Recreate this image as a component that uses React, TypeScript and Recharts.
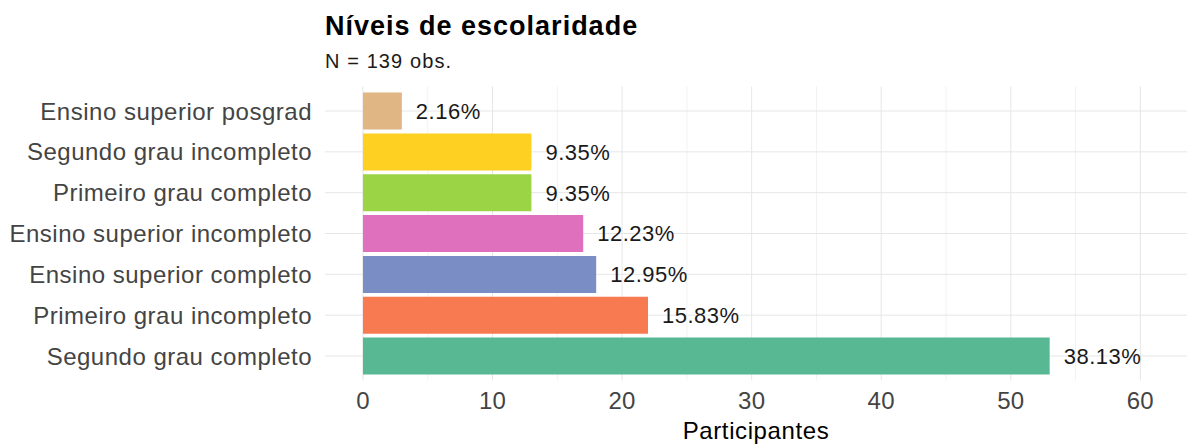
import React from 'react';
import { BarChart, Bar, XAxis, YAxis, CartesianGrid, Cell, LabelList, Label } from 'recharts';

const categories = [
  'Ensino superior posgrad',
  'Segundo grau incompleto',
  'Primeiro grau completo',
  'Ensino superior incompleto',
  'Ensino superior completo',
  'Primeiro grau incompleto',
  'Segundo grau completo',
];
const counts = [3, 13, 13, 17, 18, 22, 53];
const percentLabels = ['2.16%', '9.35%', '9.35%', '12.23%', '12.95%', '15.83%', '38.13%'];
const barColors = ['#dfb684', '#fdd021', '#9bd445', '#df70be', '#7a8ec5', '#f77a50', '#57b893'];
const xTicks = [0, 10, 20, 30, 40, 50, 60];
const xMinorTicks = [5, 15, 25, 35, 45, 55];

const data = categories.map((c, i) => ({ name: c, value: counts[i], label: percentLabels[i] }));

const FONT = '"Liberation Sans", Arial, Helvetica, sans-serif';

export default function App() {
  return (
    <div style={{ position: 'absolute', left: 0, top: 0, width: 1187, height: 445, background: '#fff', fontFamily: FONT }}>
      <div style={{ position: 'absolute', left: 325, top: 13, fontSize: 27, lineHeight: 1, fontWeight: 700, color: '#000', letterSpacing: 1.0, whiteSpace: 'nowrap' }}>
        Níveis de escolaridade
      </div>
      <div style={{ position: 'absolute', left: 325, top: 51, fontSize: 20, lineHeight: 1, color: '#1a1a1a', letterSpacing: 1.1, whiteSpace: 'nowrap' }}>
        N = 139 obs.
      </div>
      <div style={{ position: 'absolute', left: 0, top: 0 }}>
        <BarChart
          width={1187}
          height={445}
          data={data}
          layout="vertical"
          margin={{ top: 86.5, right: 0, bottom: 0, left: 0 }}
          style={{ fontFamily: FONT }}
        >
          <CartesianGrid horizontal={false} vertical={true} verticalValues={xMinorTicks} syncWithTicks stroke="#f2f2f2" strokeWidth={1} />
          <CartesianGrid horizontal={true} vertical={true} syncWithTicks stroke="#e6e6e6" strokeWidth={1} />
          <XAxis
            type="number"
            domain={[-2.93, 63.6]}
            allowDataOverflow
            ticks={xTicks}
            axisLine={false}
            tickLine={false}
            tickSize={0}
            tickMargin={11.5}
            height={64.5}
            tick={{ fill: '#444444', fontSize: 24, fontFamily: FONT, letterSpacing: 0.3 }}
          >
            <Label value="Participantes" position="insideBottom" offset={6} fill="#000" fontSize={24} fontFamily={FONT} style={{ letterSpacing: 0.6 }} />
          </XAxis>
          <YAxis
            type="category"
            dataKey="name"
            width={325}
            axisLine={false}
            tickLine={false}
            tickSize={0}
            tickMargin={13}
            padding={{ top: 4.1, bottom: 4.1 }}
            interval={0}
            tick={{ fill: '#444444', fontSize: 24, fontFamily: FONT, letterSpacing: 0.5 }}
          />
          <Bar dataKey="value" barSize={37} isAnimationActive={false}>
            {data.map((d, i) => (
              <Cell key={d.name} fill={barColors[i]} />
            ))}
            <LabelList dataKey="label" position="right" offset={14} fill="#1a1a1a" fontSize={22} fontFamily={FONT} style={{ letterSpacing: 0.5 }} />
          </Bar>
        </BarChart>
      </div>
    </div>
  );
}
